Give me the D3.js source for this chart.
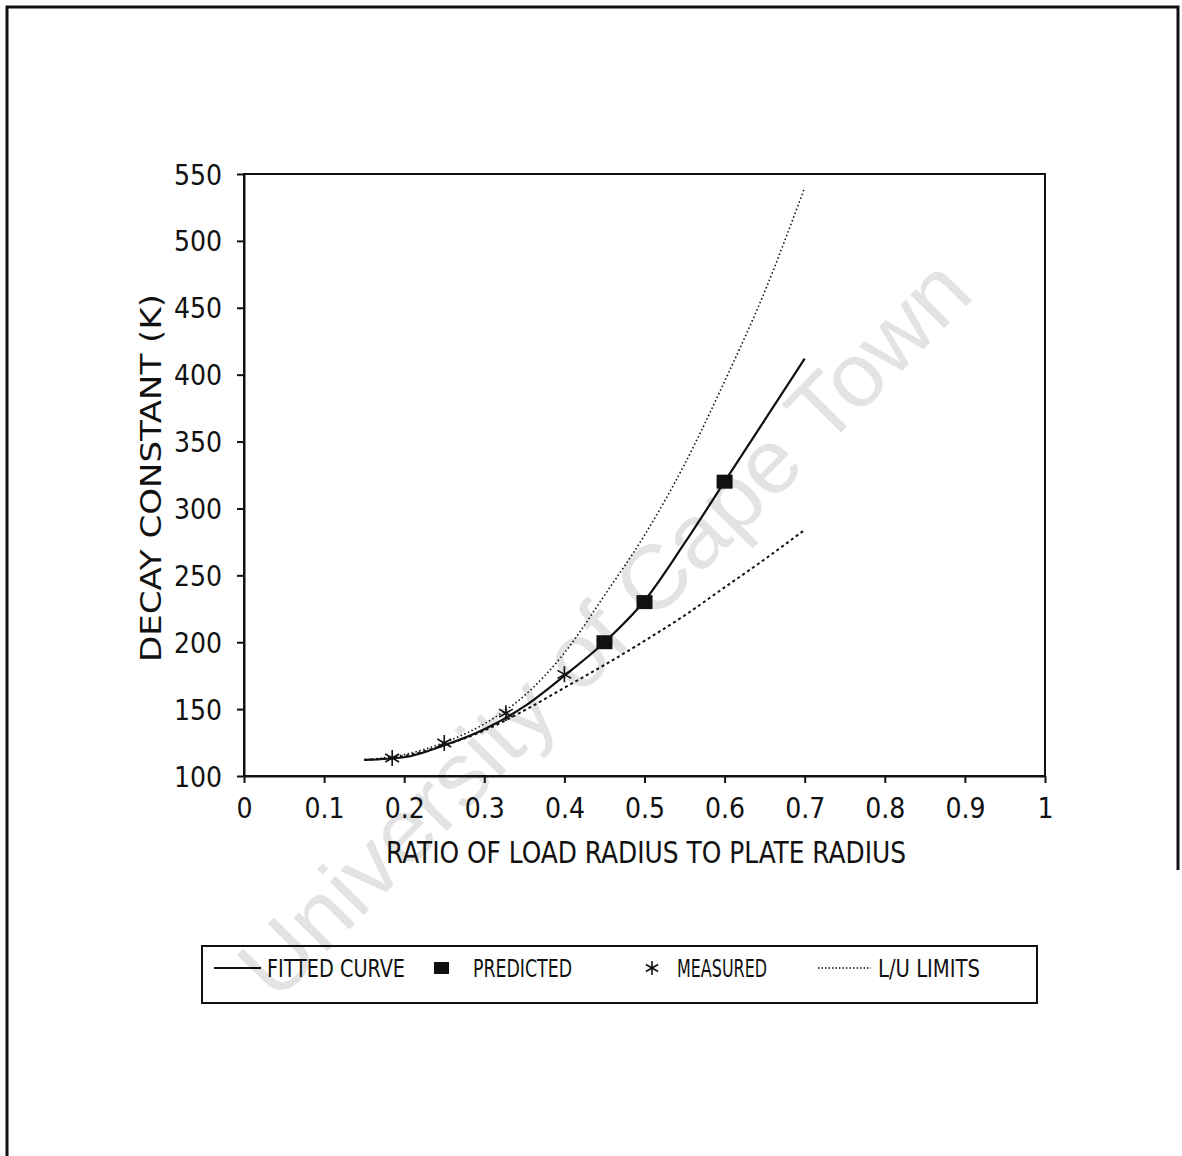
<!DOCTYPE html>
<html>
<head>
<title>Decay constant vs ratio of load radius</title>
<script src="https://d3js.org/d3.v7.min.js"></script>
<style>
    body { margin: 0; background: #fff; }
    svg text {
        font-family: "DejaVu Sans Condensed", "DejaVu Sans", sans-serif;
        font-stretch: condensed;
        fill: #111;
    }
    .axis path, .axis line { stroke: #111; stroke-width: 2; }
    .axis text { font-size: 28px; }
    .watermark { font-family: "Liberation Sans", Arial, sans-serif !important; fill: #e3e3e3 !important; }
</style>
</head>
<body>
<svg width="1182" height="1156"></svg>
<script>
// values
var fitX = [0.15, 0.2, 0.25, 0.3, 0.35, 0.4, 0.45, 0.5, 0.55, 0.6, 0.65, 0.7];
var fitY = [112, 114, 123, 135, 152, 175, 200, 231, 274, 320, 366, 412];
var upperY = [112, 116, 125, 139, 160, 192, 235, 280, 333, 395, 462, 540];
var lowerY = [112, 115, 123, 134, 149, 166, 183, 201, 220, 241, 262, 284];
var predictedX = [0.45, 0.5, 0.6];
var predictedY = [200, 230, 320];
var measuredX = [0.185, 0.25, 0.327, 0.4];
var measuredY = [113.5, 124.7, 147, 176];
var xTicks = [0, 0.1, 0.2, 0.3, 0.4, 0.5, 0.6, 0.7, 0.8, 0.9, 1];
var yTicks = [100, 150, 200, 250, 300, 350, 400, 450, 500, 550];
var legendLabels = ["FITTED CURVE", "PREDICTED", "MEASURED", "L/U LIMITS"];

var svg = d3.select("svg");

// watermark behind everything
svg.append("text")
    .attr("class", "watermark")
    .attr("transform", "translate(604,628) rotate(-45.3)")
    .attr("text-anchor", "middle")
    .attr("dominant-baseline", "central")
    .attr("font-size", 90)
    .attr("textLength", 995)
    .attr("lengthAdjust", "spacingAndGlyphs")
    .text("University of Cape Town");

// page frame
svg.append("path")
    .attr("d", "M7,1156 V7 H1178 V870")
    .attr("fill", "none")
    .attr("stroke", "#111")
    .attr("stroke-width", 3);

var x = d3.scaleLinear().domain([0, 1]).range([244, 1045]);
var y = d3.scaleLinear().domain([100, 550]).range([776, 174]);

// plot box
svg.append("rect")
    .attr("x", x(0)).attr("y", y(550))
    .attr("width", x(1) - x(0)).attr("height", y(100) - y(550))
    .attr("fill", "none").attr("stroke", "#111").attr("stroke-width", 2);

svg.append("g")
    .attr("class", "axis")
    .attr("transform", "translate(0," + y(100) + ")")
    .call(d3.axisBottom(x).tickValues(xTicks).tickFormat(d => String(d))
        .tickSize(7).tickPadding(15).tickSizeOuter(0));

svg.append("g")
    .attr("class", "axis")
    .attr("transform", "translate(" + x(0) + ",0)")
    .call(d3.axisLeft(y).tickValues(yTicks).tickSize(7).tickPadding(15).tickSizeOuter(0))
    .selectAll("text").attr("dy", "0.36em");

svg.append("text")
    .attr("x", 646).attr("y", 863)
    .attr("text-anchor", "middle")
    .attr("font-size", 31)
    .attr("textLength", 520)
    .attr("lengthAdjust", "spacingAndGlyphs")
    .text("RATIO OF LOAD RADIUS TO PLATE RADIUS");

svg.append("text")
    .attr("transform", "translate(161,478) rotate(-90)")
    .attr("text-anchor", "middle")
    .attr("font-size", 28)
    .attr("textLength", 368)
    .attr("lengthAdjust", "spacingAndGlyphs")
    .text("DECAY CONSTANT (K)");

function series(ys) {
    return fitX.map((v, i) => [v, ys[i]]);
}
var line = d3.line()
    .x(d => x(d[0]))
    .y(d => y(d[1]))
    .curve(d3.curveMonotoneX);

svg.append("path")
    .attr("d", line(series(upperY)))
    .attr("fill", "none").attr("stroke", "#111")
    .attr("stroke-width", 1.6).attr("stroke-dasharray", "1.5,2.5");

svg.append("path")
    .attr("d", line(series(lowerY)))
    .attr("fill", "none").attr("stroke", "#111")
    .attr("stroke-width", 2).attr("stroke-dasharray", "3,3");

svg.append("path")
    .attr("d", line(series(fitY)))
    .attr("fill", "none").attr("stroke", "#111")
    .attr("stroke-width", 2.2);

var star = d3.symbol().type(d3.symbolAsterisk).size(180);

svg.selectAll(".measured")
    .data(measuredX)
  .enter().append("path")
    .attr("class", "measured")
    .attr("transform", (d, i) => "translate(" + x(d) + "," + y(measuredY[i]) + ")")
    .attr("d", star)
    .attr("fill", "none").attr("stroke", "#111").attr("stroke-width", 1.6);

svg.selectAll(".predicted")
    .data(predictedX)
  .enter().append("rect")
    .attr("class", "predicted")
    .attr("x", d => x(d) - 8)
    .attr("y", (d, i) => y(predictedY[i]) - 7)
    .attr("width", 16).attr("height", 14)
    .attr("fill", "#111");

// legend
var lg = svg.append("g");
lg.append("rect")
    .attr("x", 202).attr("y", 946).attr("width", 835).attr("height", 57)
    .attr("fill", "none").attr("stroke", "#111").attr("stroke-width", 2);
lg.append("line")
    .attr("x1", 214).attr("x2", 261).attr("y1", 968).attr("y2", 968)
    .attr("stroke", "#111").attr("stroke-width", 2);
lg.append("rect")
    .attr("x", 434).attr("y", 962).attr("width", 15).attr("height", 12)
    .attr("fill", "#111");
lg.append("path")
    .attr("transform", "translate(652,968)")
    .attr("d", d3.symbol().type(d3.symbolAsterisk).size(140))
    .attr("fill", "none").attr("stroke", "#111").attr("stroke-width", 1.6);
lg.append("line")
    .attr("x1", 818).attr("x2", 871).attr("y1", 968).attr("y2", 968)
    .attr("stroke", "#111").attr("stroke-width", 1.5).attr("stroke-dasharray", "1.5,2");

var legendX = [267, 473, 677, 878];
var legendW = [138, 99, 90, 102];
lg.selectAll(".ltext")
    .data(legendLabels)
  .enter().append("text")
    .attr("class", "ltext")
    .attr("x", (d, i) => legendX[i])
    .attr("y", 977)
    .attr("font-size", 24)
    .attr("textLength", (d, i) => legendW[i])
    .attr("lengthAdjust", "spacingAndGlyphs")
    .text(d => d);
</script>
</body>
</html>
